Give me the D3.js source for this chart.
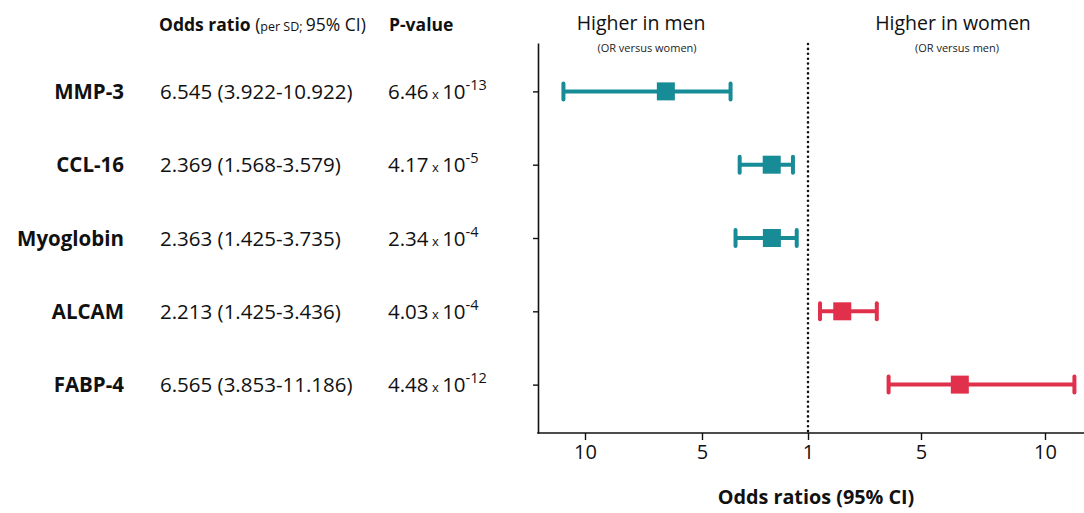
<!DOCTYPE html>
<html>
<head>
<meta charset="utf-8">
<script src="https://cdn.jsdelivr.net/npm/d3@7"></script>
<style>
  html, body { margin: 0; padding: 0; background: #fff; }
  svg { display: block; font-family: "Open Sans", "Noto Sans", sans-serif; }
</style>
</head>
<body>
<svg id="chart" width="1084" height="513"></svg>
<script>
// ---- data ----
const markers   = ["MMP-3", "CCL-16", "Myoglobin", "ALCAM", "FABP-4"];
const oddsRatio = [6.545, 2.369, 2.363, 2.213, 6.565];
const ciLow     = [3.922, 1.568, 1.425, 1.425, 3.853];
const ciHigh    = [10.922, 3.579, 3.735, 3.436, 11.186];
const pMantissa = ["6.46", "4.17", "2.34", "4.03", "4.48"];
const pExponent = ["-13", "-5", "-4", "-4", "-12"];
const higherIn  = ["men", "men", "men", "women", "women"];
const xTickValues = [-10, -5, 1, 5, 10];   // negative = "higher in men" side
const sideTitles = ["Higher in men", "Higher in women"];
const sideSubtitles = ["(OR versus women)", "(OR versus men)"];

// ---- layout ----
const svg = d3.select("#chart");
const plotLeft = 538, plotRight = 1084, plotTop = 43, plotBottom = 433;
const center = 808;
const colors = { men: "#178c97", women: "#e1304b" };

// mirrored odds-ratio axis: men side uses -OR, women side uses +OR
const x = d3.scaleLinear()
  .domain([-10, -5, -1, 1, 5, 10])
  .range([center - 223, center - 106, center, center, center + 113, center + 237]);

const y = d3.scalePoint()
  .domain(markers)
  .range([plotTop, plotBottom])
  .padding(0.66);

const rows = markers.map((m, i) => {
  const s = higherIn[i] === "men" ? -1 : 1;
  return { name: m, or: oddsRatio[i], lo: ciLow[i], hi: ciHigh[i],
           sOr: s * oddsRatio[i], sLo: s * ciLow[i], sHi: s * ciHigh[i],
           pm: pMantissa[i], pe: pExponent[i], side: higherIn[i] };
});

// ---- column headers ----
const hdr = svg.append("text").attr("x", 159).attr("y", 31)
  .attr("font-size", 17.5).attr("fill", "#111");
hdr.append("tspan").attr("font-weight", 700).text("Odds ratio ");
hdr.append("tspan").text("(");
hdr.append("tspan").attr("font-size", 12.5).text("per SD; ");
hdr.append("tspan").text("95% CI)");
svg.append("text").attr("x", 389).attr("y", 31)
  .attr("font-size", 17.5).attr("font-weight", 700).attr("fill", "#111").text("P-value");

// ---- table rows ----
const tbl = svg.append("g");
tbl.selectAll("text.lab").data(rows).join("text")
  .attr("class", "lab")
  .attr("x", 124).attr("y", d => y(d.name) + 7.5)
  .attr("text-anchor", "end")
  .attr("font-size", 20.5).attr("font-weight", 700).attr("fill", "#111")
  .text(d => d.name);

tbl.selectAll("text.or").data(rows).join("text")
  .attr("class", "or")
  .attr("x", 160).attr("y", d => y(d.name) + 7.5)
  .attr("font-size", 20.5).attr("fill", "#111")
  .text(d => `${d.or.toFixed(3)} (${d.lo.toFixed(3)}-${d.hi.toFixed(3)})`);

const pv = tbl.selectAll("text.pv").data(rows).join("text")
  .attr("class", "pv")
  .attr("x", 388).attr("y", d => y(d.name) + 7.5)
  .attr("font-size", 20.5).attr("fill", "#111");
pv.append("tspan").text(d => d.pm);
pv.append("tspan").attr("font-size", 13).text(" x ");
pv.append("tspan").text("10");
pv.append("tspan").attr("font-size", 14.5).attr("dy", -9).text(d => d.pe);

// ---- side titles ----
svg.selectAll("text.side").data(sideTitles).join("text")
  .attr("class", "side")
  .attr("x", (d, i) => i === 0 ? 641 : 953).attr("y", 30)
  .attr("text-anchor", "middle").attr("font-size", 19.5).attr("fill", "#111")
  .text(d => d);
svg.selectAll("text.sub").data(sideSubtitles).join("text")
  .attr("class", "sub")
  .attr("x", (d, i) => i === 0 ? 647 : 957).attr("y", 52)
  .attr("text-anchor", "middle").attr("font-size", 11).attr("fill", "#222")
  .text(d => d);

// ---- axes ----
const yAxis = svg.append("g").attr("transform", `translate(${plotLeft},0)`)
  .call(d3.axisLeft(y).tickSize(5).tickSizeOuter(0).tickFormat(""));
yAxis.select(".domain").attr("stroke", "#111").attr("stroke-width", 1.6);
yAxis.selectAll(".tick line").attr("stroke", "#111").attr("stroke-width", 1.4);

svg.append("line")
  .attr("x1", plotLeft - 0.8).attr("x2", plotRight)
  .attr("y1", plotBottom).attr("y2", plotBottom)
  .attr("stroke", "#111").attr("stroke-width", 1.6);

const xAxis = svg.append("g").attr("transform", `translate(0,${plotBottom})`)
  .call(d3.axisBottom(x).tickValues(xTickValues).tickSize(7).tickPadding(5)
    .tickFormat(d => Math.abs(d)));
xAxis.select(".domain").remove();
xAxis.selectAll(".tick line").attr("stroke", "#111").attr("stroke-width", 1.4);
xAxis.selectAll(".tick text").attr("font-size", 20).attr("fill", "#111")
  .attr("font-family", "'Open Sans', 'Noto Sans', sans-serif");

svg.append("text").attr("x", 816).attr("y", 504)
  .attr("text-anchor", "middle").attr("font-size", 19.8).attr("font-weight", 700)
  .attr("fill", "#111").text("Odds ratios (95% CI)");

// ---- reference line at OR = 1 ----
svg.append("line")
  .attr("x1", x(1)).attr("x2", x(1))
  .attr("y1", plotTop + 1).attr("y2", plotBottom)
  .attr("stroke", "#111").attr("stroke-width", 2.6)
  .attr("stroke-linecap", "round").attr("stroke-dasharray", "0,4.9");

// ---- forest marks ----
const g = svg.append("g");
g.selectAll("line.ci").data(rows).join("line")
  .attr("class", "ci")
  .attr("x1", d => x(d.sLo)).attr("x2", d => x(d.sHi))
  .attr("y1", d => y(d.name)).attr("y2", d => y(d.name))
  .attr("stroke", d => colors[d.side]).attr("stroke-width", 4);

const caps = rows.flatMap(d => [{ r: d, v: d.sLo }, { r: d, v: d.sHi }]);
g.selectAll("line.cap").data(caps).join("line")
  .attr("class", "cap")
  .attr("x1", d => x(d.v)).attr("x2", d => x(d.v))
  .attr("y1", d => y(d.r.name) - 8).attr("y2", d => y(d.r.name) + 8)
  .attr("stroke", d => colors[d.r.side]).attr("stroke-width", 4)
  .attr("stroke-linecap", "round");

const sq = 18;
g.selectAll("rect.pt").data(rows).join("rect")
  .attr("class", "pt")
  .attr("x", d => x(d.sOr) - sq / 2).attr("y", d => y(d.name) - sq / 2)
  .attr("width", sq).attr("height", sq)
  .attr("fill", d => colors[d.side]);
</script>
</body>
</html>
